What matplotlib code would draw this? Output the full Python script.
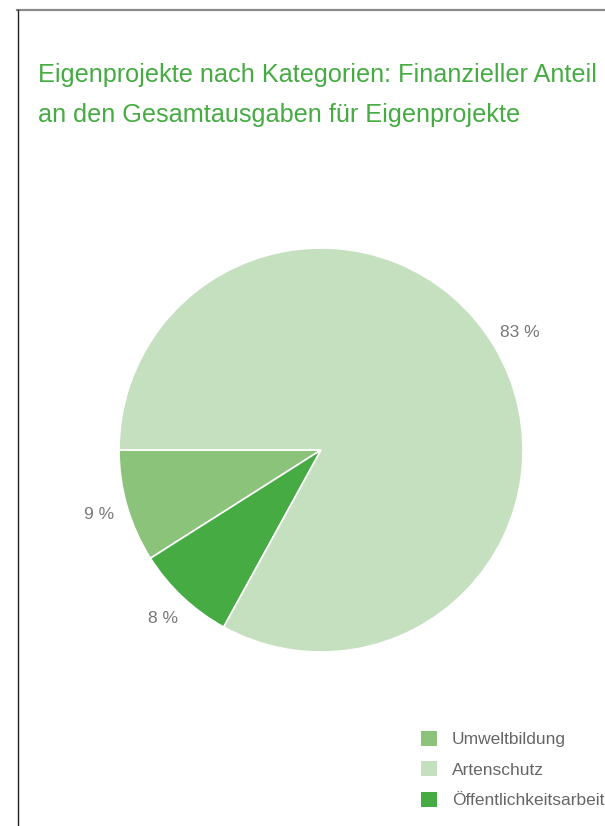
import matplotlib
matplotlib.use('Agg')
import matplotlib.pyplot as plt
from matplotlib.lines import Line2D
from matplotlib.patches import Patch

plt.rcParams['font.family'] = ['Liberation Sans', 'DejaVu Sans']

# data
title_lines = ["Eigenprojekte nach Kategorien: Finanzieller Anteil",
               "an den Gesamtausgaben für Eigenprojekte"]
categories = ["Umweltbildung", "Öffentlichkeitsarbeit", "Artenschutz"]
shares = [9, 8, 83]
legend_order = ["Umweltbildung", "Artenschutz", "Öffentlichkeitsarbeit"]

colors = {
    "Umweltbildung": "#8bc37b",
    "Artenschutz": "#c5e0bf",
    "Öffentlichkeitsarbeit": "#45ab42",
}

W, H = 605, 826
fig = plt.figure(figsize=(W / 100, H / 100), dpi=100)

# frame lines at top and left
fig.add_artist(Line2D([17 / W, 1], [1 - 9.5 / H, 1 - 9.5 / H], color="#8a8a8a", lw=1.6))
fig.add_artist(Line2D([17.5 / W, 17.5 / W], [0, 1 - 9.5 / H], color="#222222", lw=1.0))

# title, two lines
for i, line in enumerate(title_lines):
    fig.text(38 / W, 1 - (82 + 40 * i) / H, line, color="#45ab42", fontsize=18.2,
             ha="left", va="baseline")

# pie
cx, cy, r = 321, 450, 202
ax = fig.add_axes([(cx - r) / W, (H - cy - r) / H, 2 * r / W, 2 * r / H])
wedges, texts = ax.pie(
    shares,
    colors=[colors[c] for c in categories],
    startangle=180,
    counterclock=True,
    radius=1,
    labels=[f"{s} %" for s in shares],
    labeldistance=1.145,
    wedgeprops=dict(edgecolor="white", linewidth=1.2),
    textprops=dict(color="#777777", fontsize=12.5),
)
for t in texts:
    t.set_horizontalalignment("center")
    t.set_verticalalignment("center")
ax.set_xlim(-1, 1)
ax.set_ylim(-1, 1)
ax.set_aspect("equal")

handles = [Patch(facecolor=colors[c], edgecolor="none") for c in legend_order]
fig.legend(handles, legend_order, loc="upper left",
           bbox_to_anchor=(421 / W, 1 - 731 / H), frameon=False,
           handlelength=0.95, handleheight=0.95, handletextpad=0.82,
           labelspacing=0.8, borderpad=0, borderaxespad=0,
           prop=dict(size=12.5), labelcolor="#666666")

fig.savefig("out.png", dpi=100)
